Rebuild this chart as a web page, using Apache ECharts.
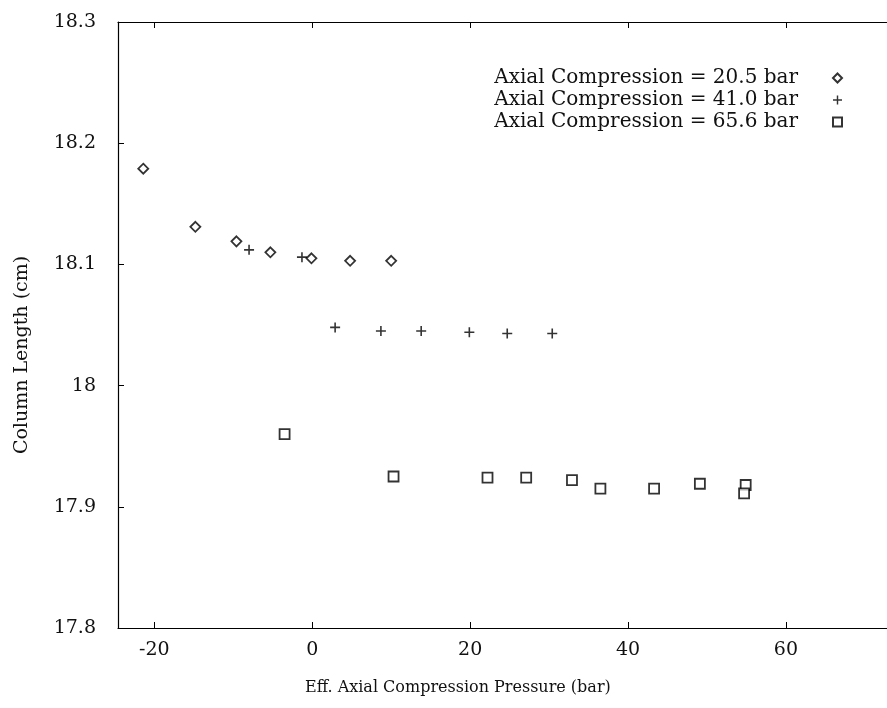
<!DOCTYPE html>
<html>
<head>
<meta charset="utf-8">
<script src="https://cdn.jsdelivr.net/npm/echarts@6/dist/echarts.min.js"></script>
<style>
  html, body { margin: 0; padding: 0; background: #fff; }
  #chart { width: 887px; height: 708px; }
</style>
</head>
<body>
<div id="chart"></div>
<script>
// data: [pressure (bar), length (cm)]
var comp205 = [[-21.4, 18.179], [-14.8, 18.131], [-9.6, 18.119], [-5.3, 18.110],
               [-0.1, 18.105], [4.8, 18.103], [10.0, 18.103]];
var comp410 = [[-8.0, 18.112], [-1.3, 18.106], [2.9, 18.048], [8.7, 18.045],
               [13.8, 18.045], [19.9, 18.044], [24.7, 18.043], [30.4, 18.043]];
var comp656 = [[-3.5, 17.960], [10.3, 17.925], [22.2, 17.924], [27.1, 17.924],
               [32.9, 17.922], [36.5, 17.915], [43.3, 17.915], [49.1, 17.919],
               [54.9, 17.918], [54.7, 17.911]];
var seriesNames = ['Axial Compression = 20.5 bar', 'Axial Compression = 41.0 bar', 'Axial Compression = 65.6 bar'];
var xTicks = [-20, 0, 20, 40, 60];

var serif = 'DejaVu Serif';
var plusPath = 'path://M4.2,0H5.8V4.2H10V5.8H5.8V10H4.2V5.8H0V4.2H4.2Z';

var myChart = echarts.init(document.getElementById('chart'));

var option = {
    backgroundColor: '#fff',
    animation: false,
    title: {
        text: 'Eff. Axial Compression Pressure (bar)',
        left: 300,
        top: 675,
        textStyle: { fontFamily: serif, fontSize: 16, fontWeight: 'normal', color: '#111' }
    },
    legend: {
        orient: 'vertical',
        right: 39,
        top: 62,
        align: 'right',
        itemWidth: 9,
        itemHeight: 9,
        itemGap: 0,
        data: seriesNames,
        textStyle: { fontFamily: serif, fontSize: 20, color: '#111', lineHeight: 22, padding: [0, 30, 0, 0] }
    },
    grid: { left: 118, right: 0, top: 22, bottom: 80 },
    xAxis: [{
        type: 'value',
        min: -24.6,
        max: 72.8,
        splitLine: { show: false },
        axisLine: { onZero: false, lineStyle: { color: '#000', width: 1.2 } },
        axisTick: { inside: true, length: 6, customValues: xTicks, lineStyle: { color: '#000' } },
        axisLabel: { customValues: xTicks, margin: 13, fontFamily: serif, fontSize: 19, color: '#111' }
    }, {
        type: 'value',
        position: 'top',
        min: -24.6,
        max: 72.8,
        splitLine: { show: false },
        axisLine: { onZero: false, lineStyle: { color: '#000', width: 1.2 } },
        axisTick: { inside: true, length: 6, customValues: xTicks, lineStyle: { color: '#000' } },
        axisLabel: { show: false }
    }],
    yAxis: {
        type: 'value',
        min: 17.8,
        max: 18.3,
        interval: 0.1,
        name: 'Column Length (cm)',
        nameLocation: 'middle',
        nameGap: 86,
        nameTextStyle: { fontFamily: serif, fontSize: 19, color: '#111', padding: [0, 60, 0, 0] },
        splitLine: { show: false },
        axisLine: { show: true, onZero: false, lineStyle: { color: '#000', width: 1.2 } },
        axisTick: { inside: true, length: 6, lineStyle: { color: '#000' } },
        axisLabel: { margin: 22, fontFamily: serif, fontSize: 19, color: '#111' }
    },
    series: [{
        name: seriesNames[0],
        type: 'scatter',
        symbol: 'diamond',
        symbolSize: 10,
        itemStyle: { color: '#fff', borderColor: '#000', borderWidth: 1.8 },
        data: comp205
    }, {
        name: seriesNames[1],
        type: 'scatter',
        symbol: plusPath,
        symbolSize: 10,
        itemStyle: { color: '#000' },
        data: comp410
    }, {
        name: seriesNames[2],
        type: 'scatter',
        symbol: 'rect',
        symbolSize: 10,
        itemStyle: { color: '#fff', borderColor: '#000', borderWidth: 1.8 },
        data: comp656
    }]
};

myChart.setOption(option);
</script>
</body>
</html>
